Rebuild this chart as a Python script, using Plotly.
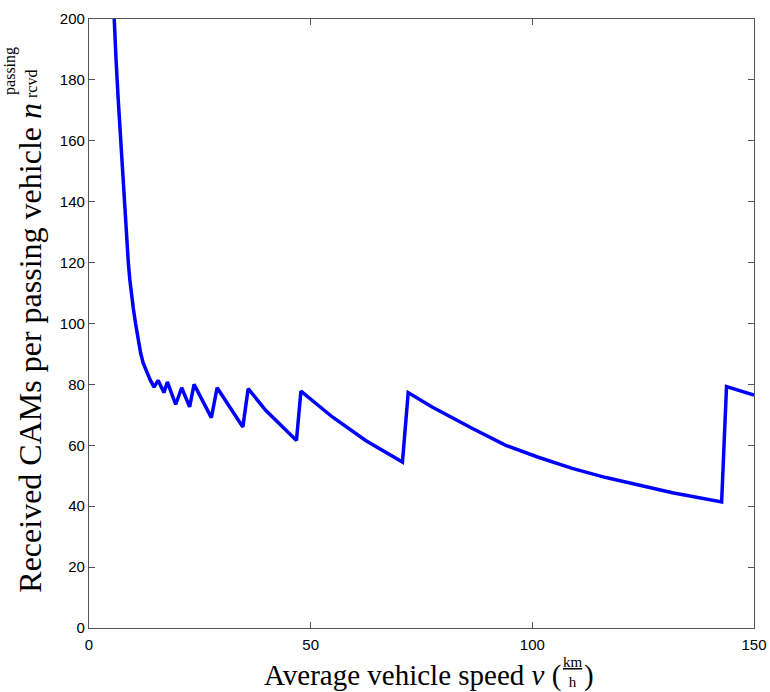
import plotly.graph_objects as go

# Average vehicle speed v (km/h)
speed = [5.2, 5.64, 6.1, 6.55, 7.0, 7.4, 7.97, 8.4, 8.87, 9.2, 9.55, 10.0, 10.5,
         11.13, 11.65, 12.2, 12.8, 13.7, 14.66,
         15.6, 16.9, 17.67, 19.55, 20.9, 22.7, 23.7, 27.6, 28.9, 34.7,
         35.9, 39.85, 46.8, 47.8, 54.9, 62.4, 70.7, 72.0, 77.4, 86.5,
         94.0, 101.5, 109.0, 116.6, 124.1, 131.6, 142.7, 143.8, 150.0]
# Received CAMs per passing vehicle
received = [216, 200, 186.7, 174.5, 163, 153.2, 140, 130.3, 120, 114.5, 109.8, 104.9, 100,
            94.5, 90.3, 87.1, 84.7, 81.8, 79.1,
            81.3, 77.3, 80.8, 73.4, 78.9, 72.6, 80.0, 69.1, 78.9, 66.0,
            78.6, 71.5, 61.6, 77.8, 69.3, 61.6, 54.5, 77.3, 72.6, 65.5,
            60.0, 56.0, 52.4, 49.4, 46.9, 44.4, 41.4, 79.3, 76.5]

x_ticks = [0, 50, 100, 150]
y_ticks = [0, 20, 40, 60, 80, 100, 120, 140, 160, 180, 200]

fig = go.Figure()
fig.add_trace(go.Scatter(x=speed, y=received, mode="lines",
                         line=dict(color="#0000FF", width=3.5),
                         hoverinfo="skip", showlegend=False))

axis_common = dict(showline=True, linecolor="#555555", linewidth=1.3,
                   mirror="ticks", ticks="inside", ticklen=6, tickcolor="#555555",
                   tickwidth=1, showgrid=False, zeroline=False, automargin=False,
                   tickfont=dict(family="Liberation Sans, Arial, sans-serif", size=15, color="black"))

fig.update_xaxes(range=[0, 150], tickvals=x_ticks, ticktext=[str(t) for t in x_ticks],
                 ticklabelstandoff=3, **axis_common)
fig.update_yaxes(range=[0, 200], tickvals=y_ticks, ticktext=[str(t) for t in y_ticks], **axis_common)

serif = "Liberation Serif, Times New Roman, serif"
ann = []
# y-axis title
ann.append(dict(text="Received CAMs per passing vehicle <i>n</i>", textangle=-90,
                xref="paper", yref="paper", x=-0.089, y=0.46,
                xanchor="center", yanchor="middle", showarrow=False,
                font=dict(family=serif, size=32, color="black")))
ann.append(dict(text="passing", textangle=-90,
                xref="paper", yref="paper", x=-0.1188, y=0.872,
                xanchor="center", yanchor="bottom", showarrow=False,
                font=dict(family=serif, size=16, color="black")))
ann.append(dict(text="rcvd", textangle=-90,
                xref="paper", yref="paper", x=-0.0857, y=0.867,
                xanchor="center", yanchor="bottom", showarrow=False,
                font=dict(family=serif, size=16, color="black")))
# x-axis title
ann.append(dict(text="Average vehicle speed <i>v</i> (",
                xref="paper", yref="paper", x=0.7125, y=-0.0772,
                xanchor="right", yanchor="middle", showarrow=False,
                font=dict(family=serif, size=29, color="black")))
ann.append(dict(text="<u>km</u><br>h",
                xref="paper", yref="paper", x=0.7285, y=-0.072,
                xanchor="center", yanchor="middle", showarrow=False,
                font=dict(family=serif, size=15, color="black")))
ann.append(dict(text=")",
                xref="paper", yref="paper", x=0.742, y=-0.0772,
                xanchor="left", yanchor="middle", showarrow=False,
                font=dict(family=serif, size=29, color="black")))

fig.update_layout(template="none", width=770, height=692,
                  margin=dict(l=89, r=16, t=19, b=64),
                  paper_bgcolor="white", plot_bgcolor="white",
                  annotations=ann)

fig.write_html("out.html")
